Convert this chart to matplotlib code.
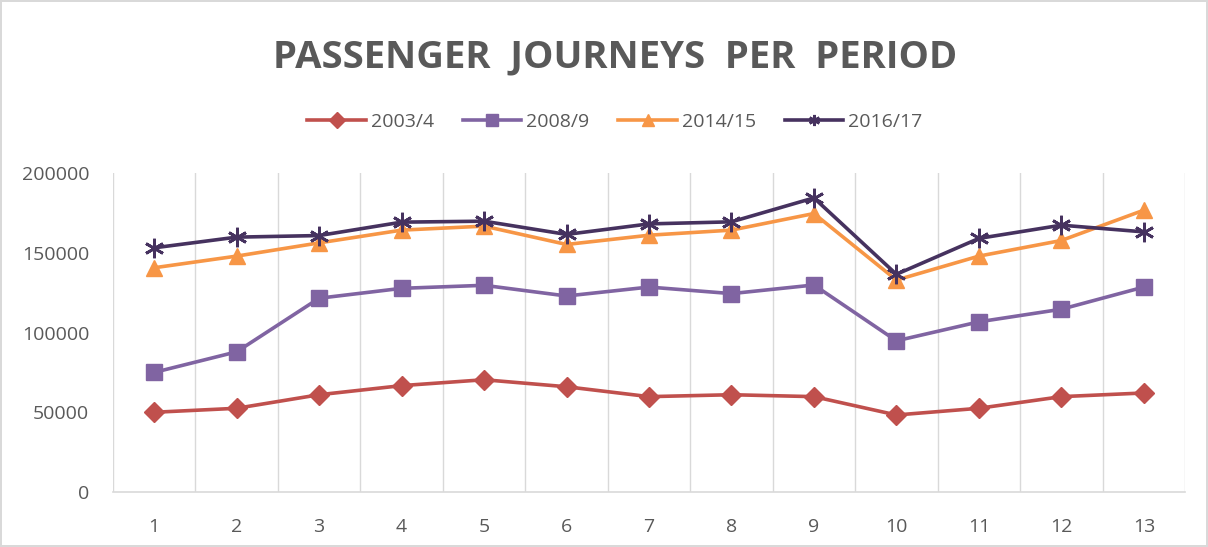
import matplotlib
matplotlib.use("Agg")
import matplotlib.pyplot as plt
from matplotlib.ticker import FixedLocator

# values
periods = list(range(1, 14))
series_names = ["2003/4", "2008/9", "2014/15", "2016/17"]
j_2003 = [50000, 52500, 61000, 66700, 70400, 66000, 59800, 61000, 59800, 48300, 52500, 59800, 62100]
j_2008 = [75000, 87900, 121500, 127700, 129600, 122900, 128500, 124400, 129800, 94800, 106700, 114600, 128500]
j_2014 = [140600, 147900, 156200, 164200, 166700, 155200, 161000, 164200, 174600, 132900, 147900, 157700, 176700]
j_2016 = [153100, 159800, 160800, 169200, 169800, 161500, 168100, 169400, 184400, 136500, 159000, 167300, 163100]
y_ticks = [0, 50000, 100000, 150000, 200000]

text_grey = "#595959"
plt.rcParams['font.family'] = ['Open Sans', 'DejaVu Sans']

fig = plt.figure(figsize=(12.08, 5.47), dpi=100)
fig.patch.set_facecolor("white")
fig.patch.set_edgecolor("#d9d9d9")
fig.patch.set_linewidth(1.5)

ax = fig.add_axes([0.0935, 0.1005, 0.8875, 0.5832])

styles = [
    (j_2003, "#C0504D", "D", 10),
    (j_2008, "#8064A2", "s", 11),
    (j_2014, "#F79646", "^", 12),
    (j_2016, "#46325F", (6, 2, 0), 14),
]
for (vals, col, mk, ms), name in zip(styles, series_names):
    ax.plot(periods, vals, color=col, lw=2.6, marker=mk, markersize=ms,
            markeredgecolor=col, markerfacecolor=col, markeredgewidth=2 if mk == (6, 2, 0) else 1,
            label=name, zorder=3)

ax.set_xlim(0.5, 13.5)
ax.set_ylim(0, 200000)
ax.set_xticks(periods)
ax.set_yticks(y_ticks)
# vertical gridlines sit between categories, as in Excel
ax.xaxis.set_minor_locator(FixedLocator([p + 0.5 for p in range(0, 14)]))
ax.grid(which="minor", axis="x", color="#d9d9d9", lw=1)
ax.grid(which="major", visible=False)
ax.tick_params(which="both", length=0)
ax.tick_params(axis="x", pad=19, labelsize=14, labelcolor=text_grey)
ax.tick_params(axis="y", pad=17, labelsize=14, labelcolor=text_grey)
for s in ["top", "right", "left"]:
    ax.spines[s].set_visible(False)
ax.spines["bottom"].set_color("#d9d9d9")
ax.spines["bottom"].set_linewidth(1.2)

fig.text(0.509, 0.895, "PASSENGER  JOURNEYS  PER  PERIOD", ha="center", va="center",
         fontsize=27.5, fontweight="bold", color=text_grey)

leg = fig.legend(loc="center", bbox_to_anchor=(0.509, 0.777), ncol=4, frameon=False,
                 fontsize=14, handlelength=3.0, columnspacing=1.5, handletextpad=0.25,
                 labelcolor=text_grey)
for h in leg.legend_handles:
    h.set_markersize(8)

fig.savefig("out.png", dpi=100)
